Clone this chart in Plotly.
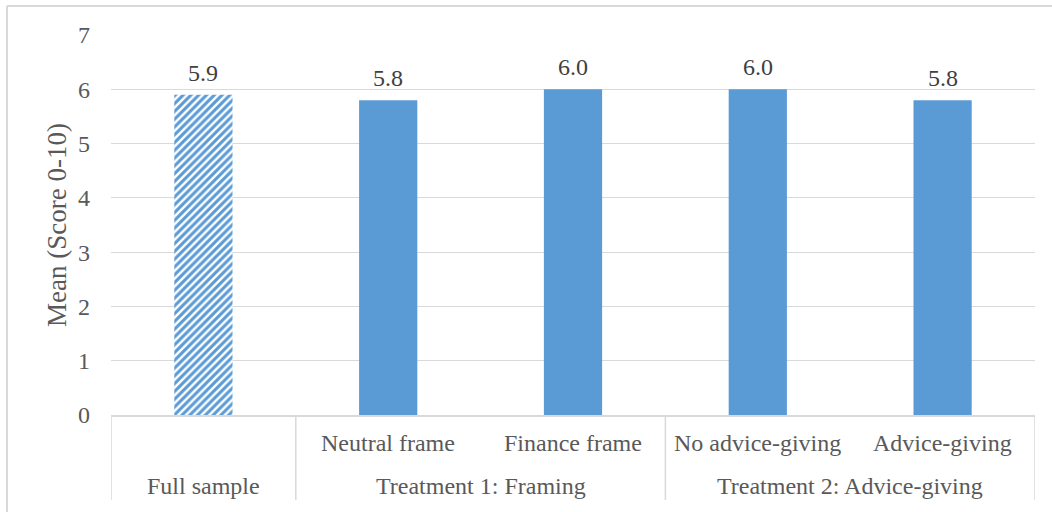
import plotly.graph_objects as go

# Mean scores by group
groups = ["Full sample", "Treatment 1: Framing", "Treatment 2: Advice-giving"]
conditions = ["", "Neutral frame", "Finance frame", "No advice-giving", "Advice-giving"]
means = [5.9, 5.8, 6.0, 6.0, 5.8]
y_ticks = [0, 1, 2, 3, 4, 5, 6, 7]

BLUE = "#5B9BD5"
GRID = "#D9D9D9"
TEXT = "#595959"
FONT = "Liberation Serif, Times New Roman, serif"

xs = list(range(len(means)))

fig = go.Figure()

# Full sample drawn hatched, treatment conditions solid
fig.add_trace(go.Bar(
    x=xs[:1], y=means[:1], width=0.315,
    marker=dict(color="white",
                pattern=dict(shape="/", fgcolor=BLUE, bgcolor="white",
                             fgopacity=1, fillmode="replace",
                             size=5.5, solidity=0.55),
                line=dict(width=0)),
    hoverinfo="skip",
))
fig.add_trace(go.Bar(
    x=xs[1:], y=means[1:], width=0.315,
    marker=dict(color=BLUE, line=dict(width=0)),
    hoverinfo="skip",
))

annotations = []
# Value labels above bars
for xi, v in zip(xs, means):
    annotations.append(dict(x=xi, y=v, xref="x", yref="y", text=f"{v:.1f}",
                            showarrow=False, yanchor="bottom", yshift=7,
                            font=dict(family=FONT, size=24, color="#404040")))

# Inner category row
for xi, c in zip(xs, conditions):
    if c:
        annotations.append(dict(x=xi, y=-0.0737, xref="x", yref="paper", text=c,
                                showarrow=False, yanchor="middle",
                                font=dict(family=FONT, size=24, color=TEXT)))

# Group row
group_pos = [0, 1.5, 3.5]
for gx, g in zip(group_pos, groups):
    annotations.append(dict(x=gx, y=-0.187, xref="x", yref="paper", text=g,
                            showarrow=False, yanchor="middle",
                            font=dict(family=FONT, size=24, color=TEXT)))

# Y-axis title
annotations.append(dict(x=-0.0584, y=0.5, xref="paper", yref="paper",
                        text="Mean (Score 0-10)", textangle=-90, showarrow=False,
                        xanchor="center", yanchor="middle",
                        font=dict(family=FONT, size=27, color=TEXT)))

shapes = []
# Category table dividers
table_bottom = -85 / 380
for bx in [-0.5, 0.5, 2.5, 4.5]:
    shapes.append(dict(type="line", xref="x", yref="paper", x0=bx, x1=bx,
                       y0=0, y1=table_bottom, line=dict(color=GRID, width=1.5)))

# Chart area frame (top and left edges)
frame_left = (7 - 111) / 924
frame_top = (415 - 6) / 380
shapes.append(dict(type="line", xref="paper", yref="paper", x0=frame_left, x1=1.2,
                   y0=frame_top, y1=frame_top, line=dict(color=GRID, width=2)))
shapes.append(dict(type="line", xref="paper", yref="paper", x0=frame_left, x1=frame_left,
                   y0=frame_top, y1=-0.5, line=dict(color=GRID, width=2)))

fig.update_layout(
    width=1052, height=512,
    margin=dict(l=111, r=17, t=35, b=97),
    paper_bgcolor="white", plot_bgcolor="white",
    showlegend=False, barmode="overlay",
    font=dict(family=FONT, size=24, color=TEXT),
    xaxis=dict(range=[-0.5, 4.5], showticklabels=False, showgrid=False,
               zeroline=False, showline=True, linecolor=GRID, linewidth=1.5,
               fixedrange=True),
    yaxis=dict(range=[0, 7], tickvals=y_ticks, showgrid=True, gridcolor=GRID,
               gridwidth=1.3, zeroline=False, showline=False,
               tickfont=dict(family=FONT, size=24, color=TEXT),
               ticklabelstandoff=20, fixedrange=True),
    annotations=annotations,
    shapes=shapes,
)

fig.write_html("out.html")
